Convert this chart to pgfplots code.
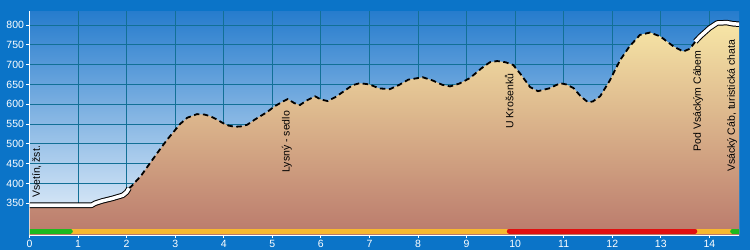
\documentclass[border=0pt]{standalone}
\usepackage{fontspec}
\setmainfont{Liberation Sans}
\usepackage{pgfplots}
\usepackage{pgfplotstable}
\pgfplotsset{compat=1.18}
\definecolor{bgblue}{RGB}{11,116,200}
\definecolor{skytop}{RGB}{38,124,205}
\definecolor{skybot}{RGB}{238,245,252}
\definecolor{gridc}{RGB}{18,112,150}
\definecolor{areatop}{RGB}{247,230,166}
\definecolor{areamid}{RGB}{228,196,148}
\definecolor{areabot}{RGB}{186,122,108}
\definecolor{bargreen}{RGB}{30,185,30}
\definecolor{barorange}{RGB}{248,184,48}
\definecolor{barred}{RGB}{225,15,15}
\pgfplotstableread{
x y
0 345
0.5 345
1.0 345
1.28 345
1.35 350
1.5 356
1.7 362
1.92 370
2.0 378
2.05 388
2.1 393
2.3 420
2.48 451
2.65 480
2.83 510
3.0 535
3.1 550
3.25 566
3.45 575
3.6 574
3.72 570
3.85 562
3.99 552
4.1 546
4.23 543
4.35 544
4.48 548
4.65 562
4.89 580
5.05 595
5.22 607
5.32 613
5.45 603
5.57 598
5.7 609
5.88 620
6.0 612
6.14 608
6.3 618
6.5 635
6.65 648
6.8 653
7.0 650
7.2 640
7.42 638
7.6 648
7.8 662
8.1 668
8.3 660
8.5 649
8.66 645
8.85 652
9.07 666
9.3 690
9.48 706
9.63 709
9.8 706
9.96 699
10.1 678
10.31 643
10.47 633
10.7 640
10.93 653
11.05 650
11.2 641
11.35 620
11.5 605
11.6 607
11.75 620
11.95 660
12.16 711
12.35 745
12.57 775
12.78 781
12.99 771
13.26 746
13.46 733
13.6 740
13.71 758
13.81 771
14.0 792
14.16 805
14.36 806
14.49 803
14.61 802
}\profile
\begin{document}
\begin{tikzpicture}
\fill[bgblue] (0,0) rectangle (750pt,250pt);
\useasboundingbox (0,0) rectangle (750pt,250pt);
\begin{axis}[
  at={(29.5pt,15pt)}, anchor=south west,
  width=709.5pt, height=224pt, scale only axis,
  xmin=0, xmax=14.61, ymin=269.9, ymax=835.3,
  axis x line*=bottom, axis y line*=left,
  axis line style={white, line width=0.8pt, -},
  axis background/.style={top color=skytop, bottom color=skybot},
  xtick={0,1,...,14}, ytick={350,400,...,800},
  tick align=outside, major tick length=3pt,
  tick style={white, line width=0.8pt},
  grid=major, grid style={gridc, line width=0.8pt},
  ticklabel style={white, font=\fontsize{10.5}{12}\selectfont},
  /pgf/number format/assume math mode=true,
  /pgf/number format/1000 sep={},
  xticklabel style={yshift=1pt},
  yticklabel style={xshift=1pt},
]
\addplot[draw=none, top color=areatop, middle color=areamid, bottom color=areabot] table[x=x,y=y] {\profile} \closedcycle;
% surface bar
\addplot[barorange, line width=5pt, line cap=round] coordinates {(0,280) (14.61,280)};
\addplot[bargreen, line width=5pt, line cap=round] coordinates {(-0.2,280) (0.84,280)};
\addplot[barred, line width=5pt, line cap=round] coordinates {(9.88,280) (13.7,280)};
\addplot[bargreen, line width=5pt, line cap=round] coordinates {(14.48,280) (14.8,280)};
% profile line
\addplot[black, line width=1.8pt, dash pattern=on 5.5pt off 3.5pt, restrict x to domain=2.05:13.71] table[x=x,y=y] {\profile};
\addplot[black, line width=5.5pt, line join=round, restrict x to domain=0:2.05] table[x=x,y=y] {\profile};
\addplot[white, line width=3.5pt, line join=round, restrict x to domain=0:2.05] table[x=x,y=y] {\profile};
\addplot[black, line width=5.5pt, line join=round, restrict x to domain=13.71:14.7] table[x=x,y=y] {\profile};
\addplot[white, line width=3.5pt, line join=round, restrict x to domain=13.71:14.7] table[x=x,y=y] {\profile};
\draw[white, line width=0.8pt] (rel axis cs:0,0) -- (rel axis cs:1,0);
\draw[white, line width=0.8pt] (rel axis cs:0,0) -- (rel axis cs:0,1);
% labels
\begin{scope}[every node/.style={rotate=90, anchor=west, inner sep=0pt, font=\fontsize{10.5}{12}\selectfont, text=black}]
\node at (axis cs:0.15,363) {Vsetín, žst.};
\node at (axis cs:5.3,427) {Lysný - sedlo};
\node at (axis cs:9.88,538) {U Krošenků};
\node at (axis cs:13.77,480) {Pod Vsáckým Cábem};
\node at (axis cs:14.47,429) {Vsácký Cáb, turistická chata};
\end{scope}
\end{axis}
\end{tikzpicture}
\end{document}
